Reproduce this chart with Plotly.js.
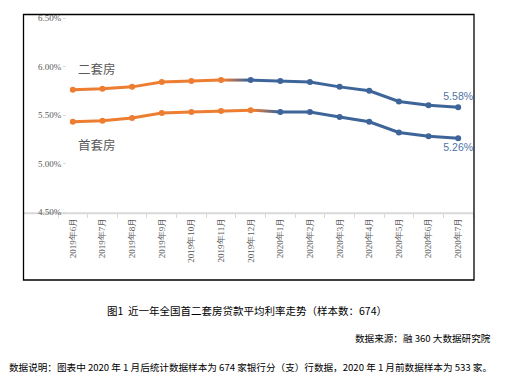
<!DOCTYPE html>
<html>
<head>
<meta charset="utf-8">
<script src="https://cdn.plot.ly/plotly-3.0.1.min.js"></script>
<style>
html,body{margin:0;padding:0;background:#fff;}
#chart{width:522px;height:386px;}
</style>
</head>
<body>
<div id="chart"></div>
<script>
// ---------- data ----------
const months = ['2019年6月','2019年7月','2019年8月','2019年9月','2019年10月','2019年11月','2019年12月',
                '2020年1月','2020年2月','2020年3月','2020年4月','2020年5月','2020年6月','2020年7月'];
const secondHomeRate = [5.76,5.77,5.79,5.84,5.85,5.86,5.86,5.85,5.84,5.79,5.75,5.64,5.60,5.58];
const firstHomeRate  = [5.43,5.44,5.47,5.52,5.53,5.54,5.55,5.53,5.53,5.48,5.43,5.32,5.28,5.26];
const seriesLabels = ['二套房','首套房'];
const yTickValues = [4.5,5.0,5.5,6.0,6.5];
const captionTitle = '图1  近一年全国首二套房贷款平均利率走势（样本数：674）';
const captionSource = '数据来源：融 360 大数据研究院';
const captionNote = '数据说明：图表中 2020 年 1 月后统计数据样本为 674 家银行分（支）行数据，2020 年 1 月前数据样本为 533 家。';
// index of last orange point for each series (colour switches after it)
const secondSwitch = 5;
const firstSwitch = 6;

// ---------- style ----------
const ORANGE = '#ED7D31';
const BLUE = '#3E6599';
const MID = '#957169';
const W = 522, H = 386;
const M = {l:58, r:49, t:18, b:174};
const PW = W - M.l - M.r, PH = H - M.t - M.b;
const px = x => (x - M.l) / PW;          // pixel -> paper x
const py = y => (H - M.b - y) / PH;      // pixel -> paper y

function segTraces(vals, sw, textPos){
  const last = vals.length - 1;
  const blueText = vals.slice(sw+1).map((v,i)=> (sw+1+i)===last ? v.toFixed(2)+'%' : '');
  return [
    {x:months.slice(sw, sw+2), y:vals.slice(sw, sw+2), mode:'lines', line:{color:MID, width:3}, hoverinfo:'skip'},
    {x:months.slice(0, sw+1), y:vals.slice(0, sw+1), mode:'lines+markers',
     line:{color:ORANGE, width:3}, marker:{color:ORANGE, size:6}},
    {x:months.slice(sw+1), y:vals.slice(sw+1), mode:'lines+markers+text',
     line:{color:BLUE, width:3}, marker:{color:BLUE, size:6},
     text:blueText, textposition:textPos, cliponaxis:false,
     textfont:{family:'Liberation Sans, Arial, sans-serif', size:10.5, color:'#4F73A8'}}
  ];
}
const traces = [].concat(segTraces(secondHomeRate, secondSwitch, 'top center'),
                         segTraces(firstHomeRate, firstSwitch, 'bottom center'));

const greyFont = {family:'Liberation Serif, serif', size:9, color:'#595959'};
const cjk = 'Noto Sans CJK SC, sans-serif';

const layout = {
  width:W, height:H, margin:M, showlegend:false,
  paper_bgcolor:'#fff', plot_bgcolor:'#fff',
  xaxis:{type:'category', categoryorder:'array', categoryarray:months,
         range:[-0.5, months.length-0.5], tickangle:-90, ticklabelstandoff:3,
         ticks:'outside', tickson:'boundaries', ticklen:5, tickcolor:'#d9d9d9', tickwidth:1,
         showline:false, showgrid:false, zeroline:false, tickfont:greyFont, fixedrange:true},
  yaxis:{range:[4.5,6.5], tickvals:yTickValues, ticktext:yTickValues.map(v=>v.toFixed(2)+'%'),
         anchor:'free', position:px(66), ticks:'outside', ticklen:3, tickcolor:'#d9d9d9',
         showline:false, showgrid:false, zeroline:false, tickfont:greyFont, fixedrange:true},
  shapes:[
    {type:'line', xref:'paper', yref:'paper', x0:px(23), x1:1, y0:py(213.3), y1:py(213.3),
     line:{color:'#d9d9d9', width:2}, layer:'below'},
    {type:'rect', xref:'paper', yref:'paper', x0:px(23.5), x1:px(474), y0:py(280), y1:py(14.5),
     line:{color:'#000', width:1.3}}
  ],
  annotations:[
    {text:seriesLabels[0], xref:'paper', yref:'paper', x:px(76), y:py(68), xanchor:'left', yanchor:'middle',
     showarrow:false, font:{family:cjk, size:12.5, color:'#595959'}},
    {text:seriesLabels[1], xref:'paper', yref:'paper', x:px(76), y:py(144), xanchor:'left', yanchor:'middle',
     showarrow:false, font:{family:cjk, size:12.5, color:'#595959'}},
    {text:captionTitle, xref:'paper', yref:'paper', x:px(246.5), y:py(310), xanchor:'center', yanchor:'middle',
     showarrow:false, font:{family:cjk, size:10.5, color:'#000'}},
    {text:captionSource, xref:'paper', yref:'paper', x:px(493), y:py(338), xanchor:'right', yanchor:'middle',
     showarrow:false, font:{family:cjk, size:9.6, color:'#000'}},
    {text:captionNote, xref:'paper', yref:'paper', x:px(7), y:py(367), xanchor:'left', yanchor:'middle',
     showarrow:false, font:{family:cjk, size:9.6, color:'#000'}}
  ]
};

const gd = document.getElementById('chart');
Plotly.newPlot(gd, traces, layout, {staticPlot:true, displayModeBar:false}).then(function(){
  try {
    const ns = 'http://www.w3.org/2000/svg';
    const xa = gd._fullLayout.xaxis;
    const svg = gd.querySelector('.main-svg');
    let defs = svg.querySelector('defs');
    if(!defs){ defs = document.createElementNS(ns,'defs'); svg.insertBefore(defs, svg.firstChild); }
    const groups = gd.querySelectorAll('.scatterlayer .trace');
    [[0, secondSwitch],[3, firstSwitch]].forEach(function(p, k){
      const id = 'grad' + k;
      const g = document.createElementNS(ns,'linearGradient');
      g.setAttribute('id', id);
      g.setAttribute('gradientUnits','userSpaceOnUse');
      g.setAttribute('x1', xa.l2p(p[1]) + 3); g.setAttribute('x2', xa.l2p(p[1]+1) - 3);
      g.setAttribute('y1', 0); g.setAttribute('y2', 0);
      [[0,ORANGE],[1,BLUE]].forEach(function(s){
        const st = document.createElementNS(ns,'stop');
        st.setAttribute('offset', s[0]); st.setAttribute('stop-color', s[1]);
        g.appendChild(st);
      });
      defs.appendChild(g);
      const path = groups[p[0]].querySelector('path.js-line');
      if(path){ path.style.stroke = 'url(#' + id + ')'; }
    });
  } catch(e) {}
});
</script>
</body>
</html>
